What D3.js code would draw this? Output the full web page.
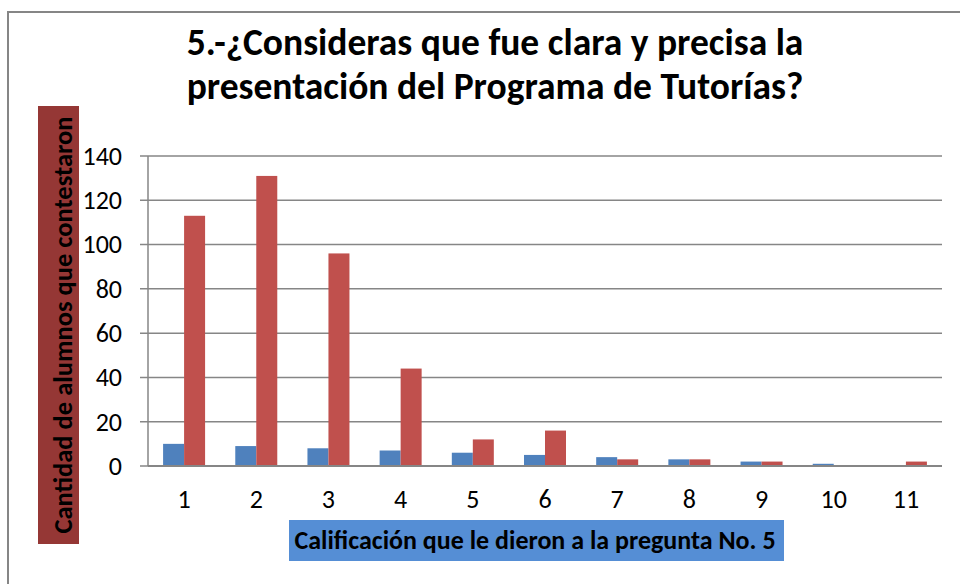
<!DOCTYPE html>
<html>
  <head>
    <meta charset="utf-8">
    <title></title>
    <script src="https://cdn.jsdelivr.net/npm/d3@7/dist/d3.min.js" charset="utf-8"></script>
    <style>
      body{margin:0;background:#fff;}
      text{font-family:Carlito, "Open Sans", "Noto Sans", sans-serif;}
    </style>
  </head>
  <body>
    <script>
      // datos
      let categories=['1','2','3','4','5','6','7','8','9','10','11'];
      let serieAzul=[10, 9, 8, 7, 6, 5, 4, 3, 2, 1, 0];
      let serieRoja=[113, 131, 96, 44, 12, 16, 3, 3, 2, 0, 2];
      let yTicks=[0, 20, 40, 60, 80, 100, 120, 140];

      let fuente='Carlito, "Open Sans", "Noto Sans", sans-serif';

      let svg=d3.select('body').append('svg').attr('width', 960).attr('height', 584);

      //marco
      svg.append('rect')
        .attr('x', 8).attr('y', 12)
        .attr('width', 980).attr('height', 600)
        .attr('fill', 'none').attr('stroke', '#868686').attr('stroke-width', 2);

      let pLeft=148, pRight=942, pTop=156, pBottom=466;

      let x=d3.scaleBand().domain(categories).range([pLeft, pRight]);
      let y=d3.scaleLinear().domain([0, 140]).range([pBottom, pTop]);
      let barW=21;

      //lineas de la rejilla
      svg.append('g').selectAll('line').data(yTicks).enter().append('line')
        .attr('x1', pLeft-8).attr('x2', pRight)
        .attr('y1', d=>y(d)).attr('y2', d=>y(d))
        .attr('stroke', '#868686').attr('stroke-width', 1.5);

      svg.append('line')
        .attr('x1', pLeft).attr('x2', pLeft).attr('y1', pTop).attr('y2', pBottom)
        .attr('stroke', '#868686').attr('stroke-width', 1.5);

      let yAxis=svg.append('g').attr('transform', `translate(${pLeft-8},0)`)
        .call(d3.axisLeft(y).tickValues(yTicks).tickSize(0).tickPadding(18));
      yAxis.select('.domain').remove();
      yAxis.selectAll('text').attr('font-size', 26).attr('fill', '#000')
        .style('font-family', fuente);

      //barras
      let g=svg.append('g');
      g.selectAll('.azul').data(serieAzul).enter().append('rect')
        .attr('x', (d,i)=>x(categories[i])+x.bandwidth()/2-barW)
        .attr('y', d=>y(d))
        .attr('width', barW)
        .attr('height', d=>pBottom-y(d))
        .attr('fill', '#4f81bd');
      g.selectAll('.roja').data(serieRoja).enter().append('rect')
        .attr('x', (d,i)=>x(categories[i])+x.bandwidth()/2)
        .attr('y', d=>y(d))
        .attr('width', barW)
        .attr('height', d=>pBottom-y(d))
        .attr('fill', '#c0504d');

      svg.append('line')
        .attr('x1', pLeft).attr('x2', pRight).attr('y1', pBottom).attr('y2', pBottom)
        .attr('stroke', '#868686').attr('stroke-width', 2);

      let xAxis=svg.append('g').attr('transform', `translate(0,${pBottom})`)
        .call(d3.axisBottom(x).tickSize(0).tickPadding(24));
      xAxis.select('.domain').remove();
      xAxis.selectAll('text').attr('font-size', 26).attr('fill', '#000')
        .style('font-family', fuente);

      //titulo
      let titulo=['5.-¿Consideras que fue clara y precisa la', 'presentación del Programa de Tutorías?'];
      svg.append('g').selectAll('text').data(titulo).enter().append('text')
        .attr('x', 495).attr('y', (d,i)=>55+i*44)
        .attr('text-anchor', 'middle')
        .attr('font-size', 37.5).attr('font-weight', 'bold')
        .text(d=>d);

      //titulo eje y
      svg.append('rect').attr('x', 38).attr('y', 106).attr('width', 41).attr('height', 438).attr('fill', '#953735');
      svg.append('text')
        .attr('transform', 'translate(72,325) rotate(-90)')
        .attr('text-anchor', 'middle')
        .attr('font-size', 26.5).attr('font-weight', 'bold')
        .text('Cantidad de alumnos que contestaron');

      //titulo eje x
      svg.append('rect').attr('x', 289).attr('y', 520).attr('width', 495).attr('height', 41).attr('fill', '#558ed5');
      svg.append('text')
        .attr('x', 535).attr('y', 549)
        .attr('text-anchor', 'middle')
        .attr('font-size', 26).attr('font-weight', 'bold')
        .text('Calificación que le dieron a la pregunta No. 5');
    </script>
  </body>
</html>
